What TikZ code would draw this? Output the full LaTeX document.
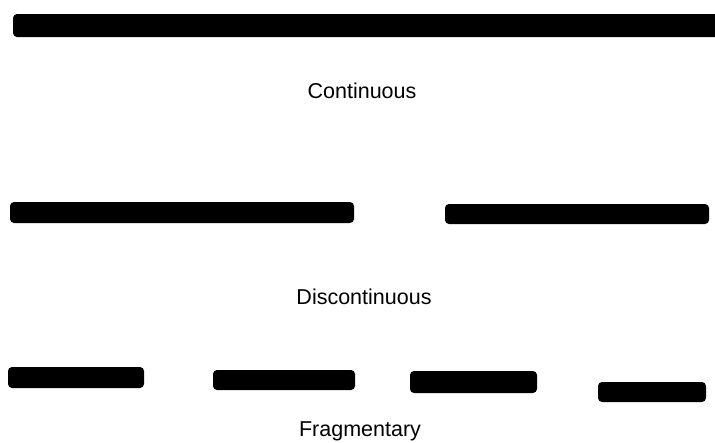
\documentclass[tikz,border=0pt]{standalone}
\usepackage{fontspec}
\setmainfont{Liberation Sans}
\begin{document}
\begin{tikzpicture}[x=1pt,y=-1pt,
  bar/.style={fill=black,draw=none,rounded corners=4pt,inner sep=0pt,outer sep=0pt},
  lbl/.style={anchor=base,inner sep=0pt,font=\fontsize{21.5}{24}\selectfont}]
\useasboundingbox[fill=white] (0,0) rectangle (715,442);
\begin{scope}
\clip (0,0) rectangle (715,442);
\node[bar,minimum width=712pt,minimum height=23pt] (c1) at (369,25.5) {};
\node[bar,minimum width=344pt,minimum height=21pt] (d1) at (182,212.5) {};
\node[bar,minimum width=264pt,minimum height=20pt] (d2) at (577,214) {};
\node[bar,minimum width=136pt,minimum height=21pt] (f1) at (76,377.5) {};
\node[bar,minimum width=142pt,minimum height=20pt] (f2) at (284,380) {};
\node[bar,minimum width=127pt,minimum height=22pt] (f3) at (473.5,382) {};
\node[bar,minimum width=108pt,minimum height=20pt] (f4) at (652,392) {};
\end{scope}
\node[lbl] (tc) at (362,98) {Continuous};
\node[lbl] (td) at (364,304) {Discontinuous};
\node[lbl] (tf) at (360,436.5) {Fragmentary};
\end{tikzpicture}
\end{document}
